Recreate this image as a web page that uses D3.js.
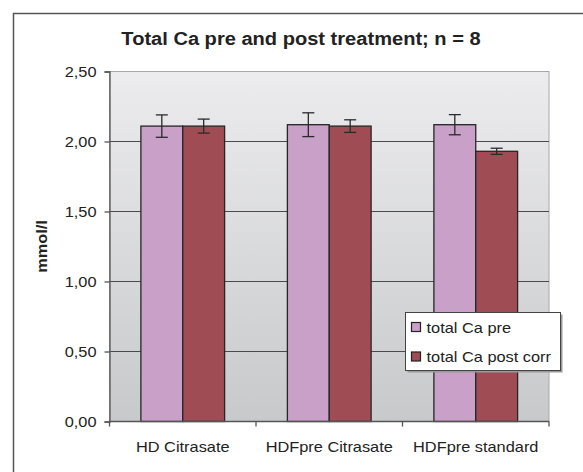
<!DOCTYPE html>
<html>
<head>
<meta charset="utf-8">
<script src="https://cdn.jsdelivr.net/npm/d3@7"></script>
<style>
  body { margin: 0; background: #fff; }
  svg { display: block; font-family: "Liberation Sans", Arial, sans-serif; }
</style>
</head>
<body>
<div id="chart"></div>
<script>
const categories = ["HD Citrasate", "HDFpre Citrasate", "HDFpre standard"];
const seriesNames = ["total Ca pre", "total Ca post corr"];
const preValues = [2.11, 2.12, 2.12];
const preErrors = [0.08, 0.085, 0.072];
const postValues = [2.11, 2.11, 1.93];
const postErrors = [0.05, 0.045, 0.022];
const yTicks = [0, 0.5, 1.0, 1.5, 2.0, 2.5];
const colors = ["#c8a0c8", "#a04c55"];

const W = 583, H = 472;
const margin = {top: 71.5, right: 34, bottom: 50.5, left: 109.5};
const width = W - margin.left - margin.right;
const height = H - margin.top - margin.bottom;
const stretch = 1.09; // the original text is a bit wide

const svg = d3.select("#chart").append("svg")
    .attr("width", W)
    .attr("height", H);

// outer chart frame (runs off right/bottom edges)
svg.append("rect")
    .attr("x", 13.5).attr("y", 13.5)
    .attr("width", W + 10).attr("height", H + 10)
    .attr("fill", "#fff")
    .attr("stroke", "#555")
    .attr("stroke-width", 1.5);

const defs = svg.append("defs");
const grad = defs.append("linearGradient")
    .attr("id", "plotBg").attr("x1", 0).attr("y1", 0).attr("x2", 0).attr("y2", 1);
grad.append("stop").attr("offset", "0%").attr("stop-color", "#ececee");
grad.append("stop").attr("offset", "100%").attr("stop-color", "#c8c9cb");

const g = svg.append("g")
    .attr("transform", `translate(${margin.left},${margin.top})`);

const x0 = d3.scaleBand().domain(categories).range([0, width]).paddingInner(0).paddingOuter(0);
const barW = x0.bandwidth() / 3.5;
const y = d3.scaleLinear().domain([0, 2.5]).range([height, 0]);

g.append("rect")
    .attr("width", width).attr("height", height)
    .attr("fill", "url(#plotBg)")
    .attr("stroke", "#a8a8a8")
    .attr("stroke-width", 1);

// grid lines
g.append("g")
    .selectAll("line")
    .data(yTicks.filter(d => d > 0 && d < 2.5))
    .enter().append("line")
    .attr("x1", 0).attr("x2", width)
    .attr("y1", d => y(d)).attr("y2", d => y(d))
    .attr("stroke", "#4a4a4a")
    .attr("stroke-width", 1);

const data = categories.map((c, i) => ({
    cat: c,
    vals: [
        {s: 0, v: preValues[i], e: preErrors[i]},
        {s: 1, v: postValues[i], e: postErrors[i]}
    ]
}));

const groups = g.selectAll(".grp")
    .data(data)
    .enter().append("g")
    .attr("class", "grp")
    .attr("transform", d => `translate(${x0(d.cat) + (x0.bandwidth() - 2 * barW) / 2},0)`);

groups.selectAll("rect")
    .data(d => d.vals)
    .enter().append("rect")
    .attr("x", d => d.s * barW)
    .attr("y", d => y(d.v))
    .attr("width", barW)
    .attr("height", d => y(0) - y(d.v))
    .attr("fill", d => colors[d.s])
    .attr("stroke", "#262626")
    .attr("stroke-width", 1.3);

const err = groups.selectAll(".err")
    .data(d => d.vals)
    .enter().append("g")
    .attr("class", "err")
    .attr("stroke", "#2a2a2a")
    .attr("stroke-width", 1.3);
err.append("line")
    .attr("x1", d => d.s * barW + barW / 2).attr("x2", d => d.s * barW + barW / 2)
    .attr("y1", d => y(d.v + d.e)).attr("y2", d => y(d.v - d.e));
err.append("line")
    .attr("x1", d => d.s * barW + barW / 2 - 6).attr("x2", d => d.s * barW + barW / 2 + 6)
    .attr("y1", d => y(d.v + d.e)).attr("y2", d => y(d.v + d.e));
err.append("line")
    .attr("x1", d => d.s * barW + barW / 2 - 6).attr("x2", d => d.s * barW + barW / 2 + 6)
    .attr("y1", d => y(d.v - d.e)).attr("y2", d => y(d.v - d.e));

// y axis
const yAxis = d3.axisLeft(y)
    .tickValues(yTicks)
    .tickSize(5)
    .tickPadding(8)
    .tickFormat(d => d3.format(".2f")(d).replace(".", ","));
const ya = g.append("g").call(yAxis);
ya.select(".domain").attr("stroke", "#555").attr("stroke-width", 1.3);
ya.selectAll(".tick line").attr("stroke", "#555").attr("stroke-width", 1.3);
ya.selectAll("text").attr("fill", "#222").attr("class", "wide")
    .style("font-size", "15px")
    .style("font-family", "Liberation Sans, Arial, sans-serif");

// x axis: ticks at category boundaries
const xa = g.append("g").attr("transform", `translate(0,${height})`);
xa.append("line").attr("x1", 0).attr("x2", width).attr("y1", 0).attr("y2", 0)
    .attr("stroke", "#555").attr("stroke-width", 1.3);
xa.selectAll(".bt")
    .data(categories.map(c => x0(c)).concat([width]))
    .enter().append("line")
    .attr("x1", d => d).attr("x2", d => d)
    .attr("y1", 0).attr("y2", 5)
    .attr("stroke", "#555").attr("stroke-width", 1.3);
xa.selectAll(".lbl")
    .data(categories)
    .enter().append("text")
    .attr("class", "wide")
    .attr("x", d => x0(d) + x0.bandwidth() / 2)
    .attr("y", 30)
    .attr("text-anchor", "middle")
    .attr("fill", "#222")
    .style("font-size", "15px")
    .text(d => d);

// y label
svg.append("text")
    .attr("class", "wide")
    .attr("transform", `translate(47,${margin.top + height / 2}) rotate(-90)`)
    .attr("text-anchor", "middle")
    .attr("fill", "#222")
    .style("font-size", "15px")
    .style("font-weight", "bold")
    .text("mmol/l");

// title
svg.append("text")
    .attr("class", "title")
    .attr("x", 301)
    .attr("y", 45)
    .attr("text-anchor", "middle")
    .attr("fill", "#222")
    .style("font-size", "18px")
    .style("font-weight", "bold")
    .text("Total Ca pre and post treatment; n = 8");

// legend
const lg = svg.append("g").attr("transform", "translate(405.5,312.5)");
lg.append("rect").attr("x", 2).attr("y", 2).attr("width", 155).attr("height", 58).attr("fill", "#999");
lg.append("rect").attr("width", 155).attr("height", 58).attr("fill", "#fff")
    .attr("stroke", "#444").attr("stroke-width", 1);
const li = lg.selectAll(".li")
    .data(seriesNames)
    .enter().append("g")
    .attr("transform", (d, i) => `translate(6,${20 + i * 29.5})`);
li.append("rect").attr("x", 0).attr("y", -10).attr("width", 9).attr("height", 9)
    .attr("fill", (d, i) => colors[i]).attr("stroke", "#222").attr("stroke-width", 1.2);
li.append("text").attr("class", "wide").attr("x", 15).attr("y", 0)
    .attr("fill", "#222")
    .style("font-size", "15px")
    .text(d => d);

// widen the text a little, like the original
svg.selectAll("text.wide").each(function() {
    const len = this.getComputedTextLength();
    d3.select(this).attr("textLength", len * stretch).attr("lengthAdjust", "spacingAndGlyphs");
});
svg.selectAll("text.title").each(function() {
    const len = this.getComputedTextLength();
    d3.select(this).attr("textLength", len * 1.115).attr("lengthAdjust", "spacingAndGlyphs");
});
</script>
</body>
</html>
